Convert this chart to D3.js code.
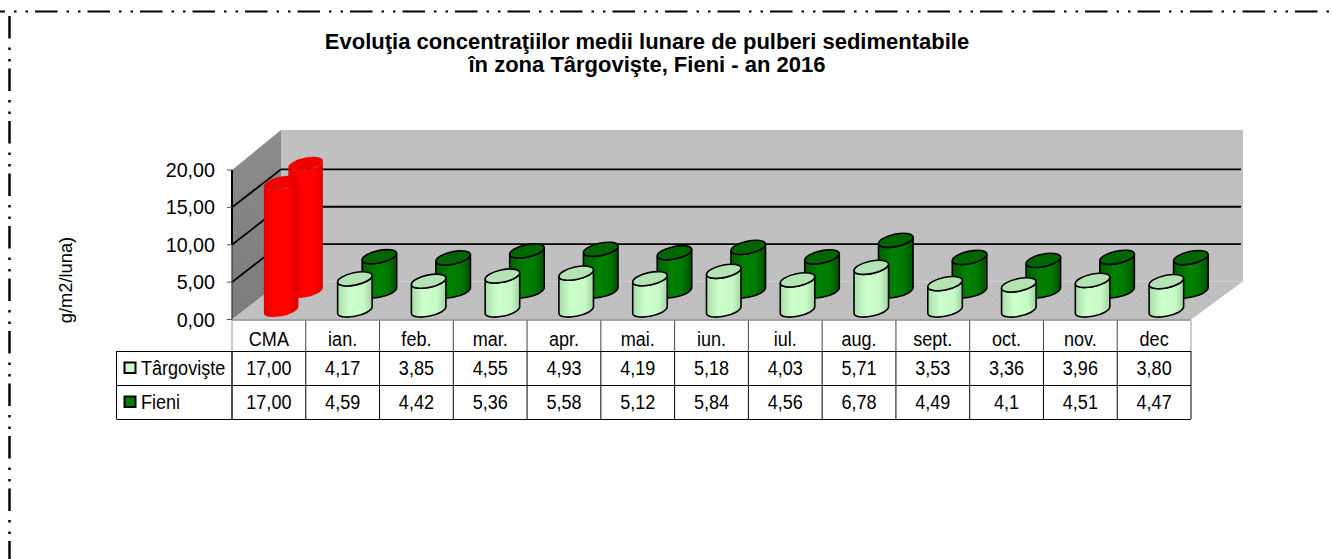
<!DOCTYPE html>
<html>
<head>
<meta charset="utf-8">
<style>
  html, body { margin: 0; background: #fff; }
  svg { display: block; }
  text { font-family: "Liberation Sans", Arial, sans-serif; fill: #000; }
</style>
</head>
<body>
<svg width="1332" height="559"></svg>
<script src="https://d3js.org/d3.v7.min.js"></script>
<script>

var categories = ["CMA", "ian.", "feb.", "mar.", "apr.", "mai.", "iun.", "iul.", "aug.", "sept.", "oct.", "nov.", "dec"];
var targovisteText = ["17,00", "4,17", "3,85", "4,55", "4,93", "4,19", "5,18", "4,03", "5,71", "3,53", "3,36", "3,96", "3,80"];
var fieniText = ["17,00", "4,59", "4,42", "5,36", "5,58", "5,12", "5,84", "4,56", "6,78", "4,49", "4,1", "4,51", "4,47"];
var yTicks = [0, 5, 10, 15, 20];

function num(s) { return +s.replace(",", "."); }
var targoviste = targovisteText.map(num);
var fieni = fieniText.map(num);

var svg = d3.select("svg");

// 3d box: the back of the chart sits this far off the front
var depthX = 49, depthY = 38;

var x = d3.scaleBand().domain(categories).range([232, 1191]);
var y = d3.scaleLinear().domain([0, 20]).range([319.5, 170]);
var fmt = d3.formatLocale({decimal: ",", thousands: ".", grouping: [3], currency: ["", ""]}).format(".2f");

var defs = svg.append("defs");

function sideGradient(id, stops) {
  var g = defs.append("linearGradient").attr("id", id);
  stops.forEach(function(s) {
    g.append("stop").attr("offset", s[0]).attr("stop-color", s[1]);
  });
}
sideGradient("redSide", [[0, "#e00000"], [0.3, "#ff0000"], [0.75, "#ff0000"], [1, "#dc0000"]]);
sideGradient("lightSide", [[0, "#a8dca8"], [0.35, "#ccffcc"], [0.75, "#c8fac8"], [1, "#a0d4a0"]]);
sideGradient("darkSide", [[0, "#005c00"], [0.4, "#008000"], [0.7, "#007c00"], [1, "#005000"]]);

var wallGrad = defs.append("linearGradient").attr("id", "leftWall")
  .attr("x1", 0).attr("y1", 0).attr("x2", 0).attr("y2", 1);
wallGrad.append("stop").attr("offset", 0).attr("stop-color", "#8c8c8c");
wallGrad.append("stop").attr("offset", 1).attr("stop-color", "#7c7c7c");

var dots = defs.append("pattern").attr("id", "floorDots")
  .attr("width", 9).attr("height", 7).attr("patternUnits", "userSpaceOnUse");
dots.append("rect").attr("width", 9).attr("height", 7).attr("fill", "#c0c0c0");
dots.append("rect").attr("x", 2).attr("y", 2).attr("width", 2).attr("height", 1).attr("fill", "#b6b6b6");
dots.append("rect").attr("x", 6).attr("y", 5).attr("width", 2).attr("height", 1).attr("fill", "#b6b6b6");

// page border, dash dot dot
var borderDash = "22.5 9 2.5 9 2.5 7";
svg.append("path").attr("d", "M-17.5,11.5H1332")
  .attr("stroke", "#000").attr("stroke-width", 2.2).attr("stroke-dasharray", borderDash).attr("fill", "none");
svg.append("path").attr("d", "M9.5,16V559")
  .attr("stroke", "#000").attr("stroke-width", 2.5).attr("stroke-dasharray", borderDash).attr("fill", "none");

// title
svg.append("text").attr("x", 647).attr("y", 49).attr("text-anchor", "middle")
  .attr("font-size", 22).attr("font-weight", "bold")
  .text("Evoluţia concentraţiilor medii lunare de pulberi sedimentabile");
svg.append("text").attr("x", 647).attr("y", 72).attr("text-anchor", "middle")
  .attr("font-size", 22).attr("font-weight", "bold")
  .text("în zona Târgovişte, Fieni - an 2016");

svg.append("text")
  .attr("transform", "translate(72,280) rotate(-90)")
  .attr("text-anchor", "middle").attr("font-size", 18.3)
  .text("g/m2/luna)");

// walls and floor
var x0 = x.range()[0], x1 = x.range()[1];
var yBottom = y(0), yTop = y(20);
var wallTop = yTop - depthY - 2;

svg.append("polygon")
  .attr("points", [[x0 + depthX, wallTop], [x1 + depthX + 3, wallTop], [x1 + depthX + 3, yBottom - depthY], [x0 + depthX, yBottom - depthY]].join(" "))
  .attr("fill", "#c0c0c0");
svg.append("polygon")
  .attr("points", [[x0, yTop], [x0 + depthX, wallTop], [x0 + depthX, yBottom - depthY], [x0, yBottom]].join(" "))
  .attr("fill", "url(#leftWall)");
svg.append("polygon")
  .attr("points", [[x0, yBottom], [x0 + depthX, yBottom - depthY], [x1 + depthX + 3, yBottom - depthY], [x1, yBottom]].join(" "))
  .attr("fill", "url(#floorDots)");

// gridlines round the walls
var gridTicks = yTicks.slice(1);
svg.append("g").selectAll("path").data(gridTicks.slice(0, -1)).join("path")
  .attr("d", function(d) {
    return "M" + x0 + "," + y(d) + "L" + (x0 + depthX) + "," + (y(d) - depthY) + "H" + (x1 + depthX + 1);
  })
  .attr("fill", "none").attr("stroke", "#000").attr("stroke-width", 1.8);

// front edge of the wall, ticks and labels
svg.append("line").attr("x1", x0).attr("x2", x0).attr("y1", yTop).attr("y2", y(10))
  .attr("stroke", "#000").attr("stroke-width", 2);
svg.append("line").attr("x1", x0).attr("x2", x0).attr("y1", y(10)).attr("y2", yBottom)
  .attr("stroke", "#333").attr("stroke-width", 1.2);
svg.append("line").attr("x1", x0).attr("x2", x1).attr("y1", yBottom + 0.5).attr("y2", yBottom + 0.5)
  .attr("stroke", "#8a8a8a").attr("stroke-width", 1.5);

var axis = svg.append("g");
axis.selectAll("line").data(yTicks).join("line")
  .attr("x1", x0 - 5).attr("x2", x0).attr("y1", y).attr("y2", y)
  .attr("stroke", "#555");
axis.selectAll("text").data(yTicks).join("text")
  .attr("x", x0 - 17).attr("y", function(d) { return y(d) + 7; })
  .attr("text-anchor", "end").attr("font-size", 19.7)
  .text(function(d) { return fmt(d); });

// cylinders
var rx = 17.6, ry = 6.2, tilt = -12;
var th = tilt * Math.PI / 180;
var tang = Math.atan(-(ry / rx) * Math.tan(th));
var tx = rx * Math.cos(tang) * Math.cos(th) - ry * Math.sin(tang) * Math.sin(th);
var ty = rx * Math.cos(tang) * Math.sin(th) + ry * Math.sin(tang) * Math.cos(th);

function bodyPath(cx, top, bottom) {
  return "M" + (cx - tx) + "," + (top - ty) +
    "L" + (cx - tx) + "," + (bottom - ty) +
    "A" + rx + "," + ry + " " + tilt + " 0 0 " + (cx + tx) + "," + (bottom + ty) +
    "L" + (cx + tx) + "," + (top + ty) +
    "A" + rx + "," + ry + " " + tilt + " 0 1 " + (cx - tx) + "," + (top - ty) + "Z";
}

function drawSeries(values, depth, side, top) {
  var g = svg.append("g");
  var cyl = g.selectAll("g").data(values).join("g");
  function cx(d, i) { return x(categories[i]) + x.bandwidth() / 2 + depth * depthX; }
  function base(d, i) { return y(0) - depth * depthY; }
  function head(d, i) { return y(d) - depth * depthY; }
  // first column is the CMA limit, always red
  function stroke(d, i) { return i === 0 ? "none" : "#000"; }
  cyl.append("path")
    .attr("d", function(d, i) { return bodyPath(cx(d, i), head(d, i), base(d, i)); })
    .attr("fill", function(d, i) { return i === 0 ? "url(#redSide)" : "url(#" + side + ")"; })
    .attr("stroke", stroke).attr("stroke-width", 1.6);
  cyl.append("ellipse")
    .attr("rx", rx).attr("ry", ry)
    .attr("transform", function(d, i) { return "translate(" + cx(d, i) + "," + head(d, i) + ") rotate(" + tilt + ")"; })
    .attr("fill", function(d, i) { return i === 0 ? "#ee0000" : top; })
    .attr("stroke", stroke).attr("stroke-width", 1.6);
}

drawSeries(fieni, 0.75, "darkSide", "#006600");
drawSeries(targoviste, 0.25, "lightSide", "#b4e4b4");

// data table
var rowTop = 351, rowH = 34, tableLeft = 116.5;
var rows = [
  {name: "Târgovişte", text: targovisteText, color: "#ccffcc"},
  {name: "Fieni", text: fieniText, color: "#008000"}
];
var table = svg.append("g");

table.selectAll(".head").data(categories).join("text").attr("class", "head")
  .attr("transform", function(d) { return "translate(" + (x(d) + x.bandwidth() / 2) + ",346) scale(0.86,1)"; })
  .attr("text-anchor", "middle").attr("font-size", 21)
  .text(function(d) { return d; });

table.selectAll(".headLine").data(categories.concat(["end"])).join("line").attr("class", "headLine")
  .attr("x1", function(d, i) { return x0 + i * x.step(); })
  .attr("x2", function(d, i) { return x0 + i * x.step(); })
  .attr("y1", yBottom + 1).attr("y2", rowTop)
  .attr("stroke", function(d, i) { return i === 0 || i === 13 ? "#999" : "#444"; });

table.selectAll(".colLine").data(categories.concat(["end"])).join("line").attr("class", "colLine")
  .attr("x1", function(d, i) { return x0 + i * x.step(); })
  .attr("x2", function(d, i) { return x0 + i * x.step(); })
  .attr("y1", rowTop).attr("y2", rowTop + 2 * rowH)
  .attr("stroke", "#000").attr("stroke-width", function(d, i) { return i === 0 ? 1.4 : 1; });

table.selectAll(".rowLine").data([0, 1, 2]).join("line").attr("class", "rowLine")
  .attr("x1", tableLeft).attr("x2", x1)
  .attr("y1", function(d) { return rowTop + d * rowH + 0.5; })
  .attr("y2", function(d) { return rowTop + d * rowH + 0.5; })
  .attr("stroke", "#000");
table.append("line").attr("x1", tableLeft).attr("x2", tableLeft)
  .attr("y1", rowTop).attr("y2", rowTop + 2 * rowH).attr("stroke", "#000");

rows.forEach(function(row, r) {
  var mid = rowTop + r * rowH + rowH / 2;
  table.append("rect").attr("x", 124.5).attr("y", mid - 5.5).attr("width", 11).attr("height", 10.5)
    .attr("fill", row.color).attr("stroke", "#000").attr("stroke-width", 2);
  table.append("text").attr("transform", "translate(141," + (mid + 7) + ") scale(0.86,1)").attr("font-size", 21).text(row.name);
  table.append("g").selectAll("text").data(row.text).join("text")
    .attr("transform", function(d, i) { return "translate(" + (x(categories[i]) + x.bandwidth() / 2) + "," + (mid + 7) + ") scale(0.86,1)"; })
    .attr("text-anchor", "middle").attr("font-size", 21)
    .text(function(d) { return d; });
});

</script>
</body>
</html>
